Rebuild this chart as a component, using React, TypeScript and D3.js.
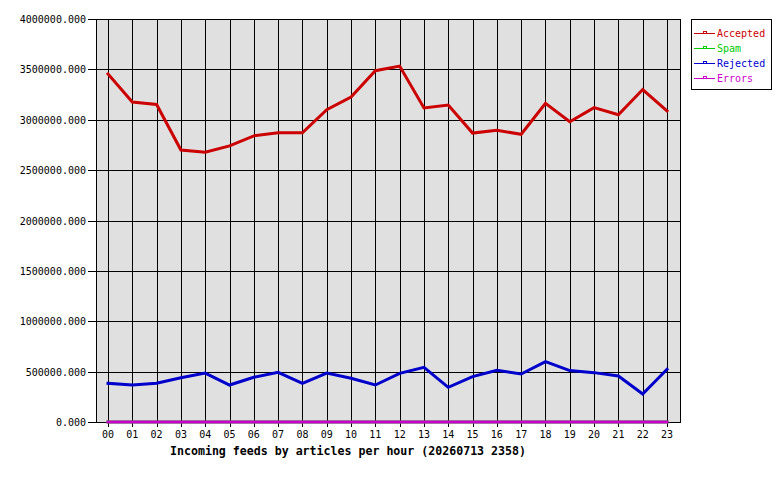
import React from "react";
import * as d3 from "d3";

const hours = ["00","01","02","03","04","05","06","07","08","09","10","11","12","13","14","15","16","17","18","19","20","21","22","23"];
const accepted = [3454000,3176000,3152000,2700000,2677000,2740000,2840000,2870000,2870000,3100000,3226000,3487000,3533000,3117000,3146000,2868000,2895000,2856000,3163000,2980000,3120000,3050000,3300000,3087000];
const spam = [0,0,0,0,0,0,0,0,0,0,0,0,0,0,0,0,0,0,0,0,0,0,0,0];
const rejected = [384000,367000,384000,440000,486000,367000,444000,493000,384000,486000,434000,367000,483000,543000,344000,450000,513000,476000,599000,510000,490000,457000,278000,523000];
const errors = [0,0,0,0,0,0,0,0,0,0,0,0,0,0,0,0,0,0,0,0,0,0,0,0];
const yTicks = [0,500000,1000000,1500000,2000000,2500000,3000000,3500000,4000000];
const seriesNames = ["Accepted","Spam","Rejected","Errors"];
const seriesColors = ["#cc0000","#00cc00","#0000cc","#cc00cc"];
const title = "Incoming feeds by articles per hour (20260713 2358)";

export default function App() {
  const left = 96, right = 680, top = 19, bottom = 422;
  const x = d3.scalePoint<string>().domain(hours).range([108, 667]);
  const y = d3.scaleLinear().domain([0, 4000000]).range([bottom, top]);
  const line = d3.line<number>().x((_, i) => x(hours[i]) as number).y(d => y(d));
  const series = [accepted, spam, rejected, errors];
  const mono = "'DejaVu Sans Mono', monospace";
  return (
    <svg width={780} height={480} style={{ position: "absolute", left: 0, top: 0, background: "#fff" }}>
      <rect x={0} y={0} width={780} height={480} fill="#fff" />
      <rect x={left} y={top} width={right - left} height={bottom - top} fill="#e0e0e0" />
      {yTicks.map(t => (
        <g key={t}>
          <line x1={left - 8} x2={right} y1={Math.round(y(t)) + 0.5} y2={Math.round(y(t)) + 0.5} stroke="#000" strokeWidth={1} shapeRendering="crispEdges" />
          <text x={86} y={Math.round(y(t)) + 4} textAnchor="end" fontFamily={mono} fontSize={10} fill="#000">{t.toFixed(3)}</text>
        </g>
      ))}
      {hours.map(h => (
        <g key={h}>
          <line x1={Math.round(x(h) as number) + 0.5} x2={Math.round(x(h) as number) + 0.5} y1={top} y2={bottom + 5} stroke="#000" strokeWidth={1} shapeRendering="crispEdges" />
          <text x={x(h) as number} y={438} textAnchor="middle" fontFamily={mono} fontSize={10} fill="#000">{h}</text>
        </g>
      ))}
      <rect x={left + 0.5} y={top + 0.5} width={right - left} height={bottom - top} fill="none" stroke="#000" strokeWidth={1} shapeRendering="crispEdges" />
      {series.map((s, i) => (
        <path key={i} d={line(s) || ""} fill="none" stroke={seriesColors[i]} strokeWidth={3} strokeLinejoin="miter" strokeLinecap="square" />
      ))}
      <text x={170} y={455} fontFamily={mono} fontWeight="bold" fontSize={11.6} fill="#000">{title}</text>
      <rect x={691.5} y={19.5} width={80} height={70} fill="#fff" stroke="#000" strokeWidth={1} shapeRendering="crispEdges" />
      {seriesNames.map((n, i) => (
        <g key={n}>
          <line x1={694} x2={715} y1={33.5 + i * 15} y2={33.5 + i * 15} stroke={seriesColors[i]} strokeWidth={1} shapeRendering="crispEdges" />
          <rect x={703.5} y={31.5 + i * 15} width={3} height={2} fill="none" stroke={seriesColors[i]} strokeWidth={1} shapeRendering="crispEdges" />
          <text x={717} y={37 + i * 15} fontFamily={mono} fontSize={10} fill={seriesColors[i]}>{n}</text>
        </g>
      ))}
    </svg>
  );
}
